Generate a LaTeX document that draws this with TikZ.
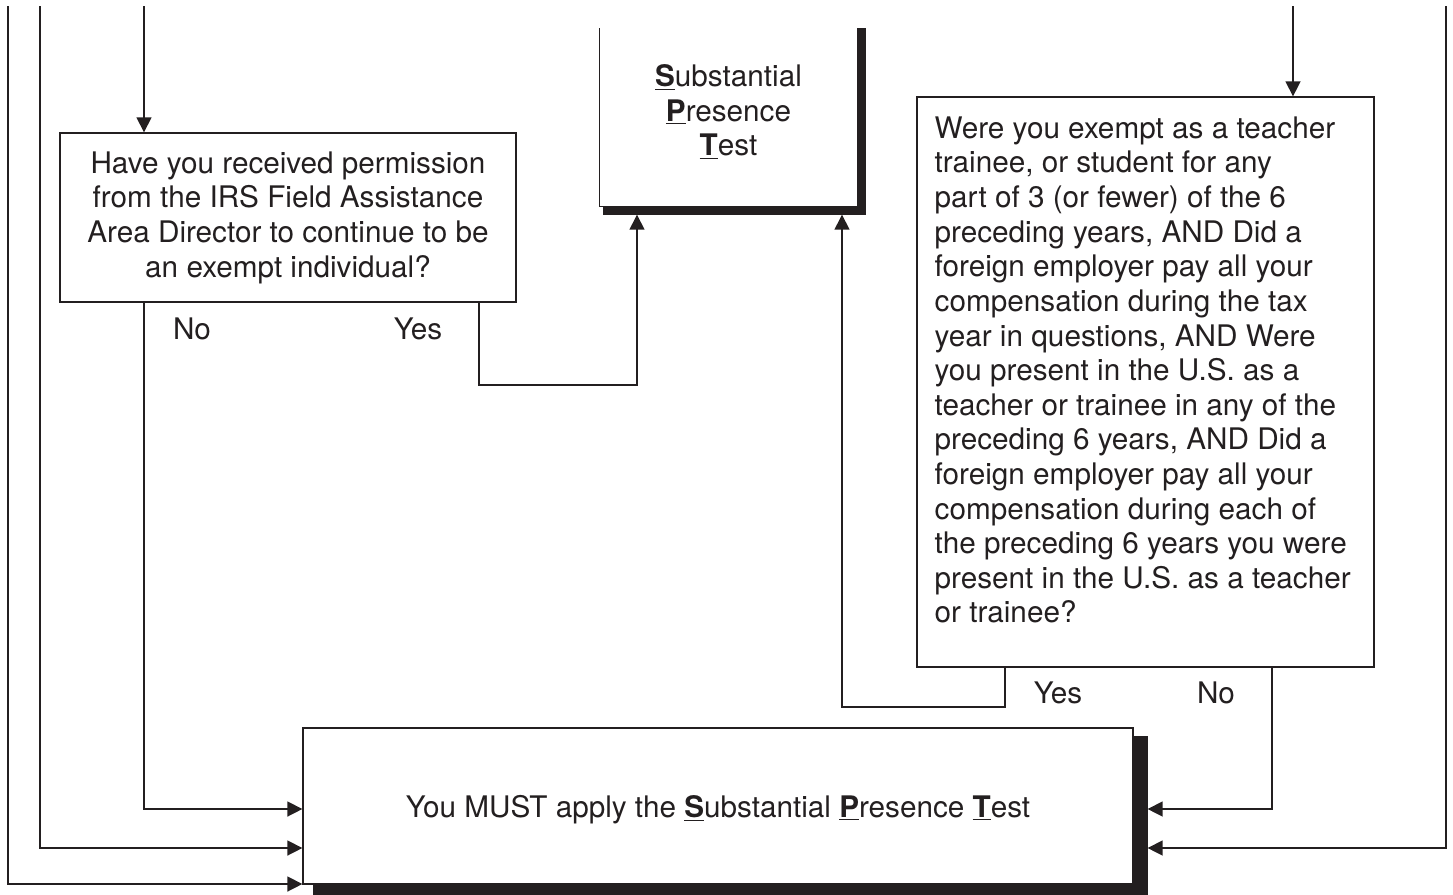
\documentclass[tikz,border=0pt]{standalone}
\usepackage{fontspec}
\setmainfont{TeX Gyre Heros}
\usepackage{tikz}
\usetikzlibrary{calc}
\usetikzlibrary{arrows.meta}
\definecolor{ink}{RGB}{35,31,32}
\newcommand{\keyletter}[1]{\underline{\textbf{#1}}}

\begin{document}
\begin{tikzpicture}[x=0.02cm, y=-0.02cm, ->, >={Triangle[length=0.3cm, width=0.3cm]},
        color=ink, line width=0.8pt, font=\fontsize{16.9}{19.7}\selectfont,
        question/.style={draw, fill=white, align=center, inner sep=0pt},
        answer/.style={inner sep=0pt}]
        \useasboundingbox (0,0) rectangle (1453,894);

        \node[question, minimum width=9.12cm, minimum height=3.38cm] (q1) at (288,217.5) {Have you received permission\\from the IRS Field Assistance\\Area Director to continue to be\\an exempt individual?};
        \node[align=center, inner sep=0pt, minimum width=5.14cm, minimum height=3.76cm] (spt) at (728.5,112) {\keyletter{S}ubstantial\\\keyletter{P}resence\\\keyletter{T}est};
        \node[question, minimum width=9.14cm, minimum height=11.4cm] (q2) at (1145.5,382) {};
        \node[anchor=north west, align=left, inner sep=0pt] (q2text) at (934,116) {Were you exempt as a teacher\\trainee, or student for any\\part of 3 (or fewer) of the 6\\preceding years, AND Did a\\foreign employer pay all your\\compensation during the tax\\year in questions, AND Were\\you present in the U.S. as a\\teacher or trainee in any of the\\preceding 6 years, AND Did a\\foreign employer pay all your\\compensation during each of\\the preceding 6 years you were\\present in the U.S. as a teacher\\or trainee?};
        \node[question, text depth=0pt, minimum width=16.6cm, minimum height=3.12cm] (must) at (718,806) {You MUST apply the \keyletter{S}ubstantial \keyletter{P}resence \keyletter{T}est};

        \node[answer] (no1) at (192,329) {No};
        \node[answer] (yes1) at (418,329) {Yes};
        \node[answer] (yes2) at (1058,693) {Yes};
        \node[answer] (no2) at (1216,693) {No};

        % open box and shadows
        \draw[-] (spt.south west |- 0,28) -- (spt.south west) -- (spt.south east) -- (spt.south east |- 0,28);
        \fill[-] ($(spt.south west)+(4,0)$) rectangle ($(spt.south east)+(8,8)$);
        \fill[-] (spt.south east |- 0,28) rectangle ($(spt.south east)+(8,8)$);
        \fill[-] ($(must.south west)+(11,0)$) rectangle ($(must.south east)+(14,16)$);
        \fill[-] ($(must.north east)+(0,9)$) rectangle ($(must.south east)+(14,16)$);

        \coordinate (sptS) at ($(spt.south)+(0,8)$);
        \coordinate (mustE) at ($(must.east)+(14,0)$);
        \coordinate (from1) at (8,6);
        \coordinate (from2) at (40,6);
        \coordinate (from3) at (144,6);
        \coordinate (from4) at (1293,6);
        \coordinate (from5) at (1446,6);

        \draw (from1) |- (must.west |- 0,884);
        \draw (from2) |- (must.west |- 0,848);
        \draw (from3) -- (q1.north -| from3);
        \draw (q1.south -| from3) |- (must.west |- 0,809);
        \draw (q1.south -| 479,0) -- (479,385) -| (sptS -| 637,0);
        \draw (from4) -- (q2.north -| from4);
        \draw (q2.south -| 1005,0) -- (1005,707) -| (sptS -| 842,0);
        \draw (q2.south -| 1272,0) |- (mustE |- 0,809);
        \draw (from5) |- (mustE |- 0,848);
    \end{tikzpicture}
\end{document}
